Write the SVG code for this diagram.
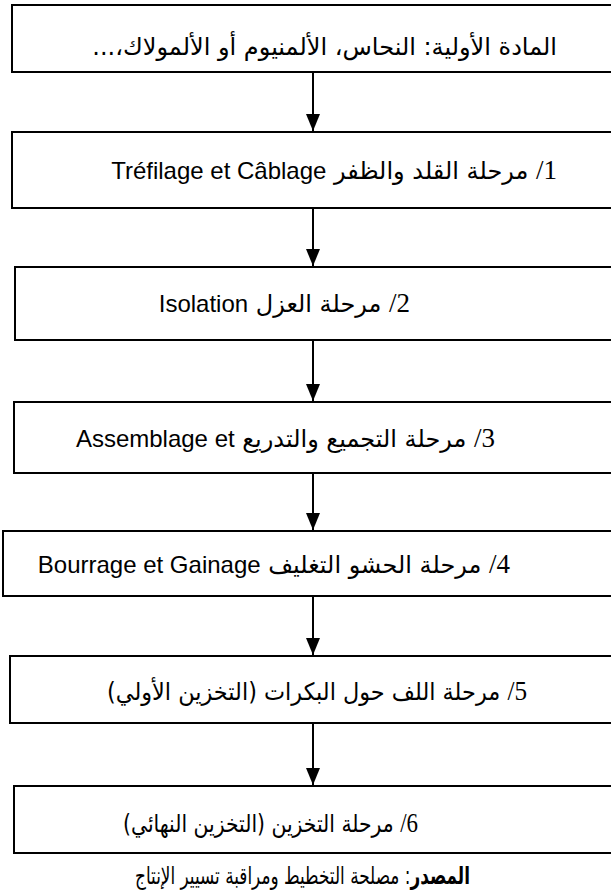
<svg xmlns="http://www.w3.org/2000/svg" width="611" height="895" viewBox="0 0 611 895">
  <style>
    .box { fill: #fff; stroke: #000; stroke-width: 2; }
    .row { font-family: "DejaVu Sans", "Noto Sans", sans-serif; font-size: 24px; fill: #000; }
    .lat { font-family: "Liberation Sans", Arial, sans-serif; font-size: 24px; }
    .num { font-family: "Liberation Serif", "Times New Roman", serif; font-size: 27px; }
    .link { stroke: #000; stroke-width: 2; fill: none; }
  </style>
  <defs>
    <marker id="arrow" viewBox="0 0 17 14" refX="17" refY="7" markerWidth="17" markerHeight="14" markerUnits="userSpaceOnUse" orient="auto">
      <path d="M0,0 L17,7 L0,14 Z" fill="#000"/>
    </marker>
  </defs>
  <rect width="611" height="895" fill="#fff"/>

  <g id="connectors">
    <line class="link" x1="313" y1="72" x2="313" y2="131" marker-end="url(#arrow)"/>
    <line class="link" x1="313" y1="208" x2="313" y2="266" marker-end="url(#arrow)"/>
    <line class="link" x1="313" y1="340" x2="313" y2="401" marker-end="url(#arrow)"/>
    <line class="link" x1="313" y1="473" x2="313" y2="530" marker-end="url(#arrow)"/>
    <line class="link" x1="313" y1="596" x2="313" y2="655" marker-end="url(#arrow)"/>
    <line class="link" x1="313" y1="723" x2="313" y2="785" marker-end="url(#arrow)"/>
  </g>

  <g id="raw-material">
    <rect class="box" x="12" y="5" width="620" height="67"/>
    <text class="row" x="557" y="55" direction="rtl">المادة الأولية: النحاس، الألمنيوم أو الألمولاك،...</text>
  </g>

  <g id="step-1">
    <rect class="box" x="12" y="132" width="620" height="76"/>
    <text class="row" x="557" y="179" direction="rtl"><tspan class="num">1/</tspan> مرحلة القلد والظفر  <tspan class="lat">Tréfilage et Câblage</tspan></text>
  </g>

  <g id="step-2">
    <rect class="box" x="15" y="267" width="620" height="73"/>
    <text class="row" x="410" y="312" direction="rtl"><tspan class="num">2/</tspan> مرحلة العزل <tspan class="lat">Isolation</tspan></text>
  </g>

  <g id="step-3">
    <rect class="box" x="14" y="402" width="620" height="71"/>
    <text class="row" x="495" y="447" direction="rtl"><tspan class="num">3/</tspan> مرحلة التجميع والتدريع  <tspan class="lat">Assemblage et</tspan></text>
  </g>

  <g id="step-4">
    <rect class="box" x="3" y="531" width="620" height="65"/>
    <text class="row" x="510" y="573" direction="rtl"><tspan class="num">4/</tspan> مرحلة الحشو التغليف <tspan class="lat">Bourrage et Gainage</tspan></text>
  </g>

  <g id="step-5">
    <rect class="box" x="10" y="656" width="620" height="67"/>
    <text class="row" x="527" y="700" direction="rtl" textLength="420" lengthAdjust="spacingAndGlyphs"><tspan class="num">5/</tspan> مرحلة اللف حول البكرات (التخزين الأولي)</text>
  </g>

  <g id="step-6">
    <rect class="box" x="14" y="786" width="620" height="67"/>
    <text class="row" x="418" y="832" direction="rtl" textLength="295" lengthAdjust="spacingAndGlyphs"><tspan class="num">6/</tspan> مرحلة التخزين (التخزين النهائي)</text>
  </g>

  <text class="row" x="470" y="884" direction="rtl" font-size="19" textLength="335" lengthAdjust="spacingAndGlyphs"><tspan font-weight="bold">المصدر</tspan>: مصلحة التخطيط ومراقبة تسيير الإنتاج</text>
</svg>
